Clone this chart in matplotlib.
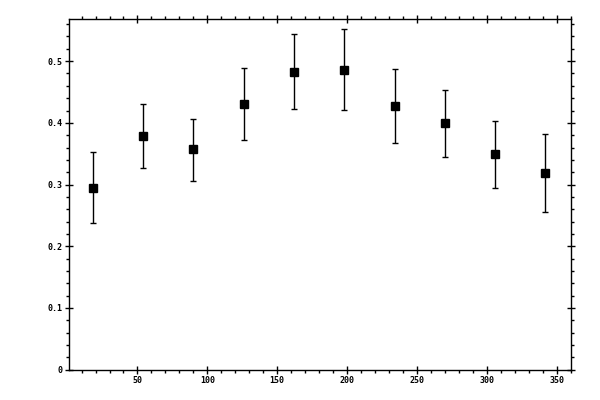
import numpy as np
import matplotlib.pyplot as plt
from matplotlib.ticker import MultipleLocator, FuncFormatter

# bin centres (deg) and measured values with error bar ends
angle = [18, 54, 90, 126, 162, 198, 234, 270, 306, 342]
value = [0.295, 0.378, 0.357, 0.430, 0.483, 0.486, 0.427, 0.399, 0.349, 0.319]
upper = [0.353, 0.430, 0.407, 0.489, 0.544, 0.552, 0.488, 0.453, 0.403, 0.382]
lower = [0.238, 0.326, 0.306, 0.372, 0.422, 0.421, 0.367, 0.345, 0.295, 0.256]

plt.rcParams['font.family'] = 'DejaVu Sans Mono'

fig = plt.figure(figsize=(6, 4), dpi=100)
ax = fig.add_axes([0.115, 0.076, 0.836, 0.876])

x = np.array(angle)
y = np.array(value)
yerr = [y - np.array(lower), np.array(upper) - y]

ax.errorbar(x, y, yerr=yerr, fmt='s', color='black', markersize=5.5,
            elinewidth=1, capsize=2, capthick=1)

ax.set_xlim(1, 360)
ax.set_ylim(0, 0.568)

ax.xaxis.set_major_locator(MultipleLocator(50))
ax.xaxis.set_minor_locator(MultipleLocator(10))
ax.yaxis.set_major_locator(MultipleLocator(0.1))
ax.yaxis.set_minor_locator(MultipleLocator(0.02))
ax.yaxis.set_major_formatter(FuncFormatter(lambda v, p: '0' if abs(v) < 1e-9 else '%g' % v))

for s in ax.spines.values():
    s.set_linewidth(1)

ax.tick_params(which='major', direction='inout', length=5.8, width=1,
               top=True, right=True, labelsize=6, pad=2)
ax.tick_params(which='minor', direction='out', length=2.4, width=1,
               top=True, right=True)
for lab in ax.get_xticklabels() + ax.get_yticklabels():
    lab.set_fontweight('bold')

plt.savefig('out.png', dpi=100)
